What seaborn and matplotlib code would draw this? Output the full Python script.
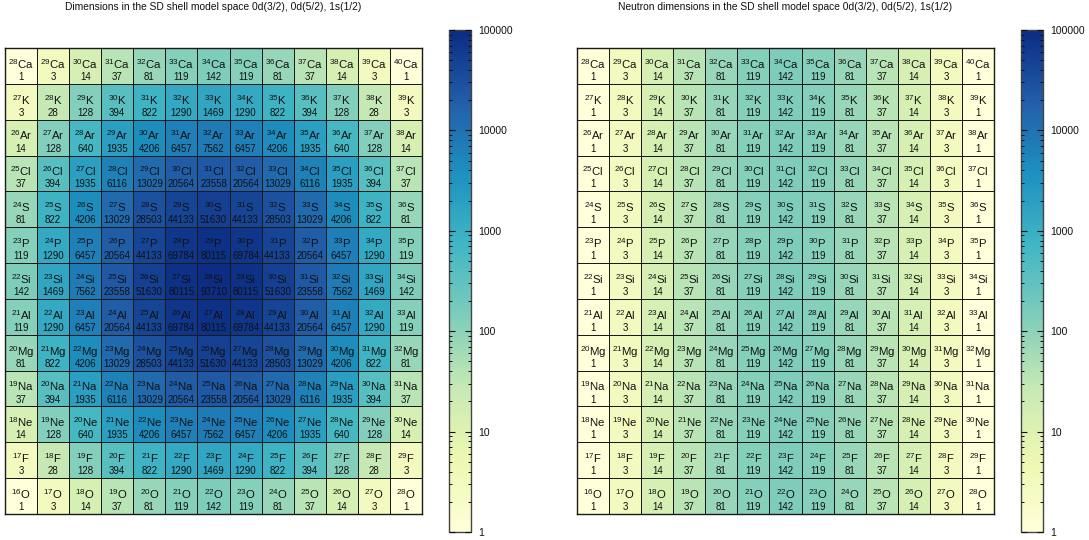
import numpy as np
import pandas as pd
import matplotlib
matplotlib.use("Agg")
import matplotlib.pyplot as plt
from matplotlib.colors import LogNorm, LinearSegmentedColormap
from matplotlib.ticker import LogLocator, NullFormatter
import seaborn as sns

sns.set_theme(style="ticks")
plt.rcParams['font.family'] = ['Liberation Sans', 'DejaVu Sans']
plt.rcParams['mathtext.fontset'] = 'custom'
plt.rcParams['mathtext.rm'] = 'Liberation Sans'
plt.rcParams['mathtext.it'] = 'Liberation Sans'
plt.rcParams['mathtext.bf'] = 'Liberation Sans'
plt.rcParams['axes.axisbelow'] = False

# ---- data ----
elements = ["Ca", "K", "Ar", "Cl", "S", "P", "Si", "Al", "Mg", "Na", "Ne", "F", "O"]
protons = [20, 19, 18, 17, 16, 15, 14, 13, 12, 11, 10, 9, 8]
neutrons = [8, 9, 10, 11, 12, 13, 14, 15, 16, 17, 18, 19, 20]

total_dims = [
    [1, 3, 14, 37, 81, 119, 142, 119, 81, 37, 14, 3, 1],
    [3, 28, 128, 394, 822, 1290, 1469, 1290, 822, 394, 128, 28, 3],
    [14, 128, 640, 1935, 4206, 6457, 7562, 6457, 4206, 1935, 640, 128, 14],
    [37, 394, 1935, 6116, 13029, 20564, 23558, 20564, 13029, 6116, 1935, 394, 37],
    [81, 822, 4206, 13029, 28503, 44133, 51630, 44133, 28503, 13029, 4206, 822, 81],
    [119, 1290, 6457, 20564, 44133, 69784, 80115, 69784, 44133, 20564, 6457, 1290, 119],
    [142, 1469, 7562, 23558, 51630, 80115, 93710, 80115, 51630, 23558, 7562, 1469, 142],
    [119, 1290, 6457, 20564, 44133, 69784, 80115, 69784, 44133, 20564, 6457, 1290, 119],
    [81, 822, 4206, 13029, 28503, 44133, 51630, 44133, 28503, 13029, 4206, 822, 81],
    [37, 394, 1935, 6116, 13029, 20564, 23558, 20564, 13029, 6116, 1935, 394, 37],
    [14, 128, 640, 1935, 4206, 6457, 7562, 6457, 4206, 1935, 640, 128, 14],
    [3, 28, 128, 394, 822, 1290, 1469, 1290, 822, 394, 128, 28, 3],
    [1, 3, 14, 37, 81, 119, 142, 119, 81, 37, 14, 3, 1],
]
neutron_dims_row = [1, 3, 14, 37, 81, 119, 142, 119, 81, 37, 14, 3, 1]
neutron_dims = [list(neutron_dims_row) for _ in elements]

cbar_ticks = [1, 10, 100, 1000, 10000, 100000]
cbar_ticklabels = ["1", "10", "100", "1000", "10000", "100000"]

titles = [
    "Dimensions in the SD shell model space 0d(3/2), 0d(5/2), 1s(1/2)",
    "Neutron dimensions in the SD shell model space 0d(3/2), 0d(5/2), 1s(1/2)",
]

cmap = LinearSegmentedColormap.from_list(
    "ylgnbu8",
    ["#ffffd9", "#edf8b1", "#c7e9b4", "#7fcdbb", "#41b6c4", "#1d91c0", "#225ea8", "#0c2c84"],
)
norm = LogNorm(vmin=1, vmax=100000)

W, H = 1089, 540
fig = plt.figure(figsize=(W / 100, H / 100), dpi=100)

def fx(px):
    return px / W

def fy(py):
    return 1 - py / H

panels = [
    (total_dims, 5, 422, 449, 471),
    (neutron_dims, 577, 994, 1021, 1043),
]
grid_top, grid_bot = 48, 514
cb_top, cb_bot = 30, 532

for (mat, gx0, gx1, cx0, cx1), title in zip(panels, titles):
    ax = fig.add_axes([fx(gx0), fy(grid_bot), fx(gx1 - gx0), (grid_bot - grid_top) / H])
    cax = fig.add_axes([fx(cx0), fy(cb_bot), fx(cx1 - cx0), (cb_bot - cb_top) / H])
    df = pd.DataFrame(mat, index=elements, columns=neutrons)
    sns.heatmap(df, ax=ax, cmap=cmap, norm=norm, linewidths=0.6, linecolor="#1a1a1a",
                cbar_ax=cax, cbar_kws={"ticks": cbar_ticks}, xticklabels=False, yticklabels=False)
    ax.set_xlabel("")
    ax.set_ylabel("")
    ax.tick_params(left=False, bottom=False)
    for s in ax.spines.values():
        s.set_visible(True)
        s.set_color("#1a1a1a")
        s.set_linewidth(1.0)
    for i, (el, z) in enumerate(zip(elements, protons)):
        for j, n in enumerate(neutrons):
            a = z + n
            ax.text(j + 0.5, i + 0.58, r"$^{%d}$%s" % (a, el), ha="center", va="baseline",
                    fontsize=8.2, color="#111111")
            ax.text(j + 0.5, i + 0.89, f"{mat[i][j]}", ha="center", va="baseline",
                    fontsize=7.0, color="#111111")
    # colorbar styling
    cax.set_axisbelow(False)
    cax.yaxis.set_minor_locator(LogLocator(base=10, subs=np.arange(2, 10)))
    cax.yaxis.set_minor_formatter(NullFormatter())
    cax.set_yticks(cbar_ticks)
    cax.set_yticklabels(cbar_ticklabels)
    cax.tick_params(which="both", direction="in", left=True, right=True,
                    labelleft=False, labelright=True, labelsize=7.5, colors="#111111", pad=5)
    cax.tick_params(which="major", length=4, width=0.8)
    cax.tick_params(which="minor", length=2.5, width=0.7)
    cb = ax.collections[0].colorbar
    cb.outline.set_edgecolor("#444444")
    cb.outline.set_linewidth(1.0)
    fig.text(fx((gx0 + gx1) / 2), fy(7), title, ha="center", va="center", fontsize=7.4,
             color="#111111")

fig.savefig("out.png", dpi=100)
